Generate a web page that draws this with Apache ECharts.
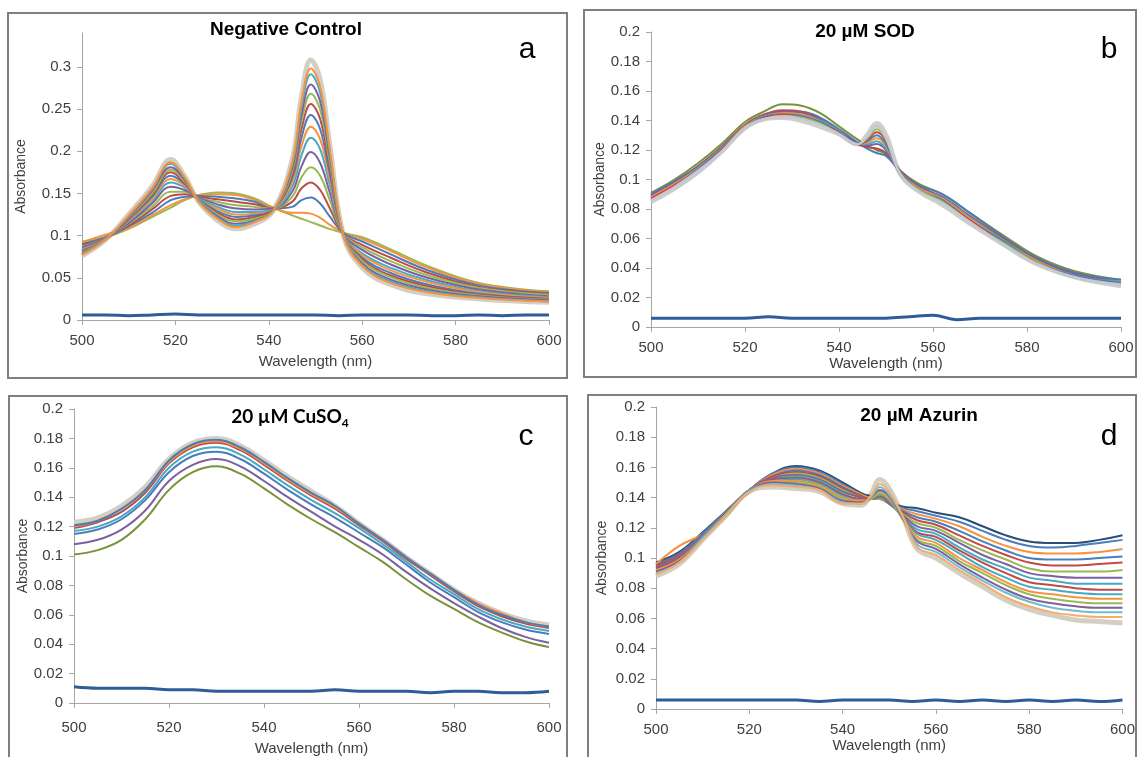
<!DOCTYPE html>
<html>
<head>
<meta charset="utf-8">
<script src="https://cdn.jsdelivr.net/npm/echarts@6/dist/echarts.min.js"></script>
<style>
  html, body { margin: 0; padding: 0; background: #fff; }
  #chart { width: 1138px; height: 757px; }
</style>
</head>
<body>
<div id="chart"></div>
<script>
// x ticks shared by all four panels
var wavelengthTicks = [500, 520, 540, 560, 580, 600];
var absTicksA = [0, 0.05, 0.1, 0.15, 0.2, 0.25, 0.3];
var absTicksBCD = [0, 0.02, 0.04, 0.06, 0.08, 0.1, 0.12, 0.14, 0.16, 0.18, 0.2];

// blank (buffer only) traces, read every 5 nm
var baselineX = [500, 505, 510, 515, 520, 525, 530, 535, 540, 545, 550, 555, 560, 565, 570, 575, 580, 585, 590, 595, 600];
var baselineA = [0.006, 0.006, 0.005, 0.006, 0.007, 0.006, 0.006, 0.006, 0.006, 0.006, 0.006, 0.005, 0.006, 0.006, 0.006, 0.005, 0.005, 0.006, 0.005, 0.006, 0.006];
var baselineB = [0.006, 0.006, 0.006, 0.006, 0.006, 0.007, 0.006, 0.006, 0.006, 0.006, 0.006, 0.007, 0.008, 0.005, 0.006, 0.006, 0.006, 0.006, 0.006, 0.006, 0.006];
var baselineC = [0.011, 0.010, 0.010, 0.010, 0.009, 0.009, 0.008, 0.008, 0.008, 0.008, 0.008, 0.009, 0.008, 0.008, 0.008, 0.007, 0.008, 0.008, 0.007, 0.007, 0.008];
var baselineD = [0.006, 0.006, 0.006, 0.006, 0.006, 0.006, 0.006, 0.005, 0.006, 0.006, 0.006, 0.005, 0.006, 0.005, 0.006, 0.005, 0.006, 0.005, 0.006, 0.005, 0.006];

// a: negative control, first scan -> last scan
var wavelengthA = [500, 505, 510, 515, 519, 522, 525, 529, 533, 537, 541, 545, 547, 549, 551, 553, 556, 560, 566, 574, 585, 600];
var negativeControl = [
  [0.093, 0.098, 0.108, 0.122, 0.133, 0.142, 0.148, 0.151, 0.150, 0.144, 0.133, 0.124, 0.120, 0.116, 0.112, 0.108, 0.103, 0.098, 0.084, 0.064, 0.044, 0.034],
  [0.092, 0.101, 0.109, 0.124, 0.136, 0.143, 0.148, 0.149, 0.148, 0.142, 0.133, 0.127, 0.127, 0.126, 0.121, 0.113, 0.103, 0.096, 0.082, 0.062, 0.043, 0.033],
  [0.090, 0.098, 0.111, 0.127, 0.142, 0.146, 0.147, 0.146, 0.144, 0.140, 0.132, 0.134, 0.142, 0.145, 0.138, 0.123, 0.103, 0.093, 0.078, 0.059, 0.041, 0.032],
  [0.089, 0.097, 0.112, 0.131, 0.147, 0.149, 0.146, 0.143, 0.140, 0.137, 0.132, 0.140, 0.156, 0.163, 0.154, 0.133, 0.102, 0.089, 0.074, 0.056, 0.039, 0.031],
  [0.087, 0.097, 0.114, 0.134, 0.152, 0.152, 0.145, 0.140, 0.136, 0.134, 0.132, 0.146, 0.169, 0.181, 0.171, 0.143, 0.102, 0.086, 0.070, 0.053, 0.038, 0.030],
  [0.086, 0.097, 0.115, 0.138, 0.158, 0.154, 0.145, 0.137, 0.132, 0.131, 0.132, 0.152, 0.182, 0.199, 0.186, 0.152, 0.102, 0.083, 0.066, 0.050, 0.036, 0.028],
  [0.084, 0.096, 0.117, 0.141, 0.163, 0.157, 0.144, 0.134, 0.128, 0.128, 0.131, 0.158, 0.195, 0.216, 0.202, 0.161, 0.101, 0.079, 0.062, 0.047, 0.034, 0.027],
  [0.083, 0.096, 0.118, 0.143, 0.167, 0.159, 0.143, 0.132, 0.125, 0.126, 0.131, 0.163, 0.206, 0.229, 0.214, 0.168, 0.101, 0.077, 0.059, 0.045, 0.033, 0.026],
  [0.082, 0.096, 0.119, 0.146, 0.171, 0.161, 0.143, 0.129, 0.122, 0.124, 0.131, 0.168, 0.216, 0.243, 0.226, 0.175, 0.101, 0.074, 0.056, 0.042, 0.031, 0.025],
  [0.081, 0.096, 0.120, 0.148, 0.175, 0.162, 0.142, 0.127, 0.119, 0.122, 0.131, 0.172, 0.226, 0.256, 0.238, 0.183, 0.101, 0.072, 0.053, 0.040, 0.030, 0.025],
  [0.080, 0.096, 0.121, 0.150, 0.178, 0.164, 0.142, 0.125, 0.117, 0.120, 0.130, 0.176, 0.235, 0.268, 0.249, 0.189, 0.101, 0.070, 0.051, 0.038, 0.029, 0.024],
  [0.079, 0.095, 0.122, 0.153, 0.181, 0.166, 0.141, 0.123, 0.114, 0.118, 0.130, 0.180, 0.243, 0.279, 0.259, 0.195, 0.100, 0.067, 0.048, 0.036, 0.028, 0.023],
  [0.078, 0.095, 0.123, 0.155, 0.185, 0.168, 0.141, 0.121, 0.112, 0.117, 0.130, 0.184, 0.252, 0.291, 0.269, 0.201, 0.100, 0.065, 0.046, 0.034, 0.027, 0.022],
  [0.077, 0.095, 0.124, 0.156, 0.187, 0.169, 0.140, 0.120, 0.110, 0.116, 0.130, 0.187, 0.258, 0.298, 0.276, 0.205, 0.100, 0.064, 0.044, 0.033, 0.026, 0.022],
  [0.076, 0.095, 0.125, 0.158, 0.190, 0.170, 0.140, 0.118, 0.108, 0.114, 0.130, 0.190, 0.265, 0.308, 0.285, 0.210, 0.100, 0.062, 0.042, 0.031, 0.025, 0.021]
];

// b: 20 uM SOD
var wavelengthB = [500, 505, 510, 515, 520, 524, 528, 532, 536, 540, 544, 546, 548, 550, 553, 557, 562, 568, 575, 582, 590, 600];
var sodSpectra = [
  [0.091, 0.100, 0.111, 0.124, 0.139, 0.146, 0.151, 0.150, 0.145, 0.136, 0.127, 0.123, 0.120, 0.117, 0.106, 0.097, 0.090, 0.077, 0.062, 0.048, 0.038, 0.032],
  [0.090, 0.099, 0.109, 0.122, 0.137, 0.144, 0.146, 0.146, 0.142, 0.134, 0.125, 0.121, 0.118, 0.116, 0.106, 0.096, 0.090, 0.077, 0.061, 0.047, 0.037, 0.032],
  [0.089, 0.098, 0.109, 0.122, 0.137, 0.144, 0.147, 0.146, 0.141, 0.133, 0.124, 0.122, 0.121, 0.118, 0.106, 0.095, 0.088, 0.075, 0.060, 0.046, 0.036, 0.031],
  [0.089, 0.098, 0.108, 0.121, 0.136, 0.143, 0.146, 0.145, 0.140, 0.133, 0.124, 0.123, 0.124, 0.120, 0.105, 0.095, 0.088, 0.074, 0.059, 0.046, 0.036, 0.030],
  [0.088, 0.097, 0.108, 0.121, 0.136, 0.143, 0.145, 0.144, 0.140, 0.133, 0.124, 0.124, 0.126, 0.121, 0.105, 0.094, 0.087, 0.074, 0.059, 0.045, 0.035, 0.031],
  [0.088, 0.097, 0.107, 0.120, 0.136, 0.142, 0.145, 0.144, 0.139, 0.132, 0.124, 0.125, 0.128, 0.123, 0.105, 0.094, 0.087, 0.073, 0.058, 0.045, 0.035, 0.030],
  [0.087, 0.096, 0.107, 0.120, 0.135, 0.142, 0.144, 0.143, 0.139, 0.132, 0.124, 0.126, 0.130, 0.124, 0.105, 0.093, 0.086, 0.072, 0.058, 0.044, 0.035, 0.030],
  [0.087, 0.096, 0.106, 0.120, 0.135, 0.142, 0.144, 0.142, 0.138, 0.132, 0.124, 0.127, 0.132, 0.126, 0.104, 0.093, 0.085, 0.072, 0.057, 0.044, 0.034, 0.029],
  [0.086, 0.095, 0.106, 0.119, 0.135, 0.141, 0.143, 0.142, 0.138, 0.131, 0.124, 0.128, 0.134, 0.127, 0.104, 0.093, 0.085, 0.071, 0.057, 0.044, 0.034, 0.029],
  [0.086, 0.095, 0.106, 0.119, 0.135, 0.141, 0.143, 0.141, 0.137, 0.131, 0.124, 0.129, 0.136, 0.128, 0.104, 0.092, 0.084, 0.071, 0.056, 0.043, 0.034, 0.029],
  [0.085, 0.094, 0.105, 0.119, 0.135, 0.141, 0.142, 0.141, 0.137, 0.131, 0.124, 0.129, 0.137, 0.129, 0.104, 0.092, 0.084, 0.070, 0.056, 0.043, 0.034, 0.028],
  [0.085, 0.094, 0.105, 0.119, 0.135, 0.141, 0.142, 0.140, 0.136, 0.131, 0.124, 0.130, 0.138, 0.130, 0.104, 0.092, 0.083, 0.070, 0.056, 0.043, 0.034, 0.028]
];

// c: 20 uM CuSO4
var wavelengthC = [500, 505, 510, 515, 520, 525, 530, 535, 540, 545, 550, 555, 560, 565, 570, 575, 580, 585, 590, 595, 600];
var cuso4Spectra = [
  [0.101, 0.104, 0.111, 0.125, 0.145, 0.157, 0.161, 0.156, 0.146, 0.135, 0.125, 0.116, 0.106, 0.096, 0.084, 0.073, 0.064, 0.055, 0.048, 0.042, 0.038],
  [0.108, 0.111, 0.118, 0.131, 0.151, 0.162, 0.166, 0.161, 0.151, 0.140, 0.130, 0.120, 0.111, 0.101, 0.089, 0.078, 0.068, 0.059, 0.051, 0.045, 0.041],
  [0.115, 0.118, 0.125, 0.138, 0.157, 0.168, 0.171, 0.166, 0.156, 0.145, 0.135, 0.126, 0.116, 0.106, 0.094, 0.082, 0.072, 0.062, 0.055, 0.050, 0.047],
  [0.117, 0.120, 0.127, 0.140, 0.160, 0.171, 0.174, 0.169, 0.159, 0.148, 0.138, 0.129, 0.119, 0.108, 0.096, 0.084, 0.074, 0.064, 0.057, 0.052, 0.049],
  [0.119, 0.123, 0.130, 0.143, 0.163, 0.174, 0.177, 0.172, 0.162, 0.151, 0.141, 0.132, 0.121, 0.110, 0.098, 0.087, 0.076, 0.066, 0.059, 0.054, 0.051],
  [0.120, 0.124, 0.132, 0.145, 0.164, 0.175, 0.178, 0.173, 0.163, 0.152, 0.142, 0.133, 0.122, 0.111, 0.099, 0.088, 0.077, 0.068, 0.061, 0.055, 0.052],
  [0.121, 0.124, 0.132, 0.145, 0.165, 0.176, 0.179, 0.174, 0.164, 0.153, 0.143, 0.134, 0.122, 0.111, 0.099, 0.088, 0.077, 0.067, 0.060, 0.055, 0.052],
  [0.123, 0.126, 0.134, 0.147, 0.166, 0.177, 0.180, 0.175, 0.165, 0.154, 0.144, 0.134, 0.122, 0.111, 0.099, 0.088, 0.077, 0.068, 0.061, 0.056, 0.053]
];

// d: 20 uM Azurin
var wavelengthD = [500, 505, 510, 515, 520, 525, 530, 535, 540, 544, 546, 548, 550, 553, 556, 560, 565, 570, 575, 580, 585, 590, 595, 600];
var azurinSpectra = [
  [0.097, 0.104, 0.117, 0.131, 0.145, 0.156, 0.161, 0.158, 0.150, 0.143, 0.141, 0.140, 0.137, 0.134, 0.133, 0.130, 0.127, 0.121, 0.115, 0.111, 0.110, 0.110, 0.112, 0.115],
  [0.096, 0.103, 0.116, 0.131, 0.145, 0.156, 0.160, 0.157, 0.149, 0.142, 0.140, 0.140, 0.137, 0.133, 0.131, 0.128, 0.124, 0.118, 0.112, 0.108, 0.107, 0.108, 0.110, 0.112],
  [0.096, 0.108, 0.116, 0.130, 0.145, 0.155, 0.159, 0.156, 0.148, 0.142, 0.140, 0.140, 0.137, 0.132, 0.129, 0.126, 0.121, 0.114, 0.108, 0.104, 0.103, 0.103, 0.104, 0.106],
  [0.095, 0.102, 0.116, 0.130, 0.145, 0.154, 0.158, 0.155, 0.147, 0.141, 0.139, 0.139, 0.136, 0.131, 0.127, 0.124, 0.118, 0.111, 0.105, 0.100, 0.099, 0.099, 0.100, 0.101],
  [0.095, 0.102, 0.115, 0.130, 0.145, 0.154, 0.157, 0.154, 0.146, 0.141, 0.139, 0.139, 0.136, 0.130, 0.125, 0.122, 0.115, 0.108, 0.102, 0.097, 0.095, 0.095, 0.096, 0.097],
  [0.094, 0.101, 0.115, 0.130, 0.145, 0.153, 0.156, 0.153, 0.145, 0.140, 0.139, 0.139, 0.136, 0.129, 0.123, 0.120, 0.112, 0.105, 0.099, 0.093, 0.091, 0.091, 0.091, 0.092],
  [0.094, 0.101, 0.115, 0.130, 0.145, 0.153, 0.155, 0.152, 0.144, 0.140, 0.139, 0.140, 0.136, 0.128, 0.121, 0.118, 0.110, 0.102, 0.096, 0.090, 0.088, 0.087, 0.087, 0.087],
  [0.093, 0.100, 0.114, 0.129, 0.145, 0.152, 0.154, 0.151, 0.143, 0.139, 0.139, 0.140, 0.137, 0.127, 0.119, 0.116, 0.107, 0.099, 0.093, 0.087, 0.085, 0.083, 0.083, 0.083],
  [0.093, 0.100, 0.114, 0.129, 0.144, 0.152, 0.153, 0.150, 0.142, 0.139, 0.139, 0.141, 0.137, 0.127, 0.117, 0.114, 0.105, 0.097, 0.090, 0.084, 0.082, 0.080, 0.079, 0.079],
  [0.092, 0.099, 0.114, 0.129, 0.144, 0.151, 0.152, 0.149, 0.141, 0.138, 0.139, 0.142, 0.138, 0.126, 0.116, 0.112, 0.103, 0.094, 0.087, 0.081, 0.079, 0.077, 0.076, 0.076],
  [0.092, 0.099, 0.113, 0.129, 0.144, 0.151, 0.151, 0.148, 0.140, 0.138, 0.139, 0.143, 0.139, 0.126, 0.114, 0.110, 0.100, 0.092, 0.084, 0.078, 0.076, 0.074, 0.073, 0.073],
  [0.091, 0.098, 0.113, 0.129, 0.144, 0.150, 0.150, 0.147, 0.139, 0.137, 0.139, 0.144, 0.140, 0.125, 0.112, 0.108, 0.098, 0.090, 0.082, 0.076, 0.073, 0.071, 0.070, 0.070],
  [0.091, 0.098, 0.113, 0.128, 0.144, 0.150, 0.149, 0.146, 0.138, 0.137, 0.140, 0.145, 0.141, 0.126, 0.111, 0.106, 0.096, 0.087, 0.079, 0.073, 0.070, 0.068, 0.067, 0.067],
  [0.090, 0.097, 0.113, 0.128, 0.144, 0.149, 0.148, 0.145, 0.137, 0.136, 0.140, 0.147, 0.142, 0.127, 0.109, 0.104, 0.094, 0.085, 0.077, 0.071, 0.067, 0.065, 0.064, 0.064],
  [0.089, 0.097, 0.112, 0.128, 0.144, 0.148, 0.147, 0.145, 0.136, 0.136, 0.141, 0.149, 0.144, 0.127, 0.107, 0.102, 0.092, 0.083, 0.074, 0.068, 0.064, 0.062, 0.061, 0.061],
  [0.088, 0.096, 0.112, 0.128, 0.144, 0.147, 0.146, 0.144, 0.136, 0.135, 0.142, 0.152, 0.146, 0.127, 0.106, 0.100, 0.090, 0.081, 0.072, 0.066, 0.062, 0.059, 0.058, 0.057]
];

// line colours (Excel 2007 palette), last trace of each panel is the thick grey one
var colorsA = ['#98B954', '#F69240', '#4A7EBB', '#BE4B48', '#98B954', '#7D60A0', '#46AAC5', '#F69240', '#4A7EBB', '#BE4B48', '#98B954', '#7D60A0', '#46AAC5', '#F69240'];
var colorsB = ['#77933C', '#4A7EBB', '#BE4B48', '#7D60A0', '#46AAC5', '#F69240', '#4A7EBB', '#BE4B48', '#98B954', '#E6B9B8', '#B9CDE5'];
var colorsC = ['#77933C', '#7D60A0', '#4A7EBB', '#46AAC5', '#BE4B48', '#F69240', '#4A7EBB'];
var colorsD = ['#2C4D75', '#4A7EBB', '#F69240', '#4A7EBB', '#BE4B48', '#98B954', '#7D60A0', '#46AAC5', '#BE4B48', '#46AAC5', '#F69240', '#98B954', '#7D60A0', '#6FBDD1', '#F9AB6B'];
var GREY = '#D3CFC3';
var BLANK = '#2F5C98';
var FONT = '"Liberation Sans", Arial, sans-serif';
var AXIS = '#A6A6A6';
var TXT = '#404040';

function line(gi, xs, ys, color, width) {
  return {
    type: 'line',
    xAxisIndex: gi,
    yAxisIndex: gi,
    data: xs.map(function (x, i) { return [x, ys[i]]; }),
    showSymbol: false,
    symbol: 'none',
    smooth: 0.4,
    lineStyle: { color: color, width: width },
    silent: true
  };
}

function panelSeries(gi, xs, curves, colors, baseY) {
  var out = [];
  var last = curves.length - 1;
  out.push(line(gi, xs, curves[last], GREY, 5));
  for (var i = 0; i < last; i++) {
    out.push(line(gi, xs, curves[i], colors[i], 2));
  }
  out.push(line(gi, baselineX, baseY, BLANK, 3));
  return out;
}

function xAxisFor(gi, gap, margin) {
  return {
    gridIndex: gi, type: 'value', min: 500, max: 600,
    axisLine: { show: true, lineStyle: { color: AXIS, width: 1 } },
    axisTick: { show: true, length: 5, lineStyle: { color: AXIS }, customValues: wavelengthTicks },
    axisLabel: { color: TXT, fontSize: 15, fontFamily: FONT, margin: margin, customValues: wavelengthTicks },
    splitLine: { show: false },
    name: 'Wavelength (nm)', nameLocation: 'middle', nameGap: gap,
    nameTextStyle: { color: TXT, fontSize: 15, fontFamily: FONT }
  };
}

function yAxisFor(gi, max, ticks, gap) {
  return {
    gridIndex: gi, type: 'value', min: 0, max: max,
    axisLine: { show: true, lineStyle: { color: AXIS, width: 1 } },
    axisTick: { show: true, length: 5, lineStyle: { color: AXIS }, customValues: ticks },
    axisLabel: { color: TXT, fontSize: 15, fontFamily: FONT, margin: 11, customValues: ticks },
    splitLine: { show: false },
    name: 'Absorbance', nameLocation: 'middle', nameGap: gap, nameRotate: 90,
    nameTextStyle: { color: TXT, fontSize: 14, fontFamily: FONT }
  };
}

function frame(x, y, w, h) {
  return { type: 'rect', silent: true, shape: { x: x, y: y, width: w, height: h },
    style: { fill: 'none', stroke: '#7F7F7F', lineWidth: 2 } };
}

function label(x, y, text, font) {
  return { type: 'text', silent: true, x: x, y: y,
    style: { text: text, font: font, fill: '#000', align: 'center', verticalAlign: 'middle',
      textAlign: 'center', textVerticalAlign: 'middle' } };
}

var chart = echarts.init(document.getElementById('chart'), null, { renderer: 'canvas' });
chart.setOption({
  animation: false,
  backgroundColor: '#fff',
  grid: [
    { left: 82, top: 33, width: 467, height: 287 },
    { left: 651, top: 32, width: 470, height: 295 },
    { left: 74, top: 409, width: 475, height: 295 },
    { left: 656, top: 407, width: 469, height: 302 }
  ],
  xAxis: [xAxisFor(0, 34, 13), xAxisFor(1, 22, 13), xAxisFor(2, 38, 17), xAxisFor(3, 21, 13)],
  yAxis: [
    yAxisFor(0, 0.34, absTicksA, 54),
    yAxisFor(1, 0.2, absTicksBCD, 44),
    yAxisFor(2, 0.2, absTicksBCD, 44),
    yAxisFor(3, 0.2, absTicksBCD, 47)
  ],
  graphic: [
    frame(8, 13, 559, 365),
    frame(584, 10, 552, 367),
    frame(9, 396, 558, 380),
    frame(588, 395, 548, 380),
    label(286, 30, 'Negative Control', 'bold 19px ' + FONT),
    label(865, 32, '20 µM SOD', 'bold 19px ' + FONT),
    label(919, 416, '20 µM Azurin', 'bold 19px ' + FONT),
    {
      type: 'text', silent: true, x: 290, y: 417,
      style: {
        text: '{t|20 µM CuSO}{s|4}', fill: '#000',
        align: 'center', verticalAlign: 'middle', textAlign: 'center', textVerticalAlign: 'middle',
        rich: {
          t: { font: 'bold 19px Lato, sans-serif', lineHeight: 24, fill: '#000' },
          s: { font: 'bold 12px Lato, sans-serif', lineHeight: 12, verticalAlign: 'bottom', fill: '#000' }
        }
      }
    },
    label(527, 50, 'a', '30px ' + FONT),
    label(1109, 50, 'b', '30px ' + FONT),
    label(526, 437, 'c', '30px ' + FONT),
    label(1109, 437, 'd', '30px ' + FONT)
  ],
  series: [].concat(
    panelSeries(0, wavelengthA, negativeControl, colorsA, baselineA),
    panelSeries(1, wavelengthB, sodSpectra, colorsB, baselineB),
    panelSeries(2, wavelengthC, cuso4Spectra, colorsC, baselineC),
    panelSeries(3, wavelengthD, azurinSpectra, colorsD, baselineD)
  )
});
</script>
</body>
</html>
